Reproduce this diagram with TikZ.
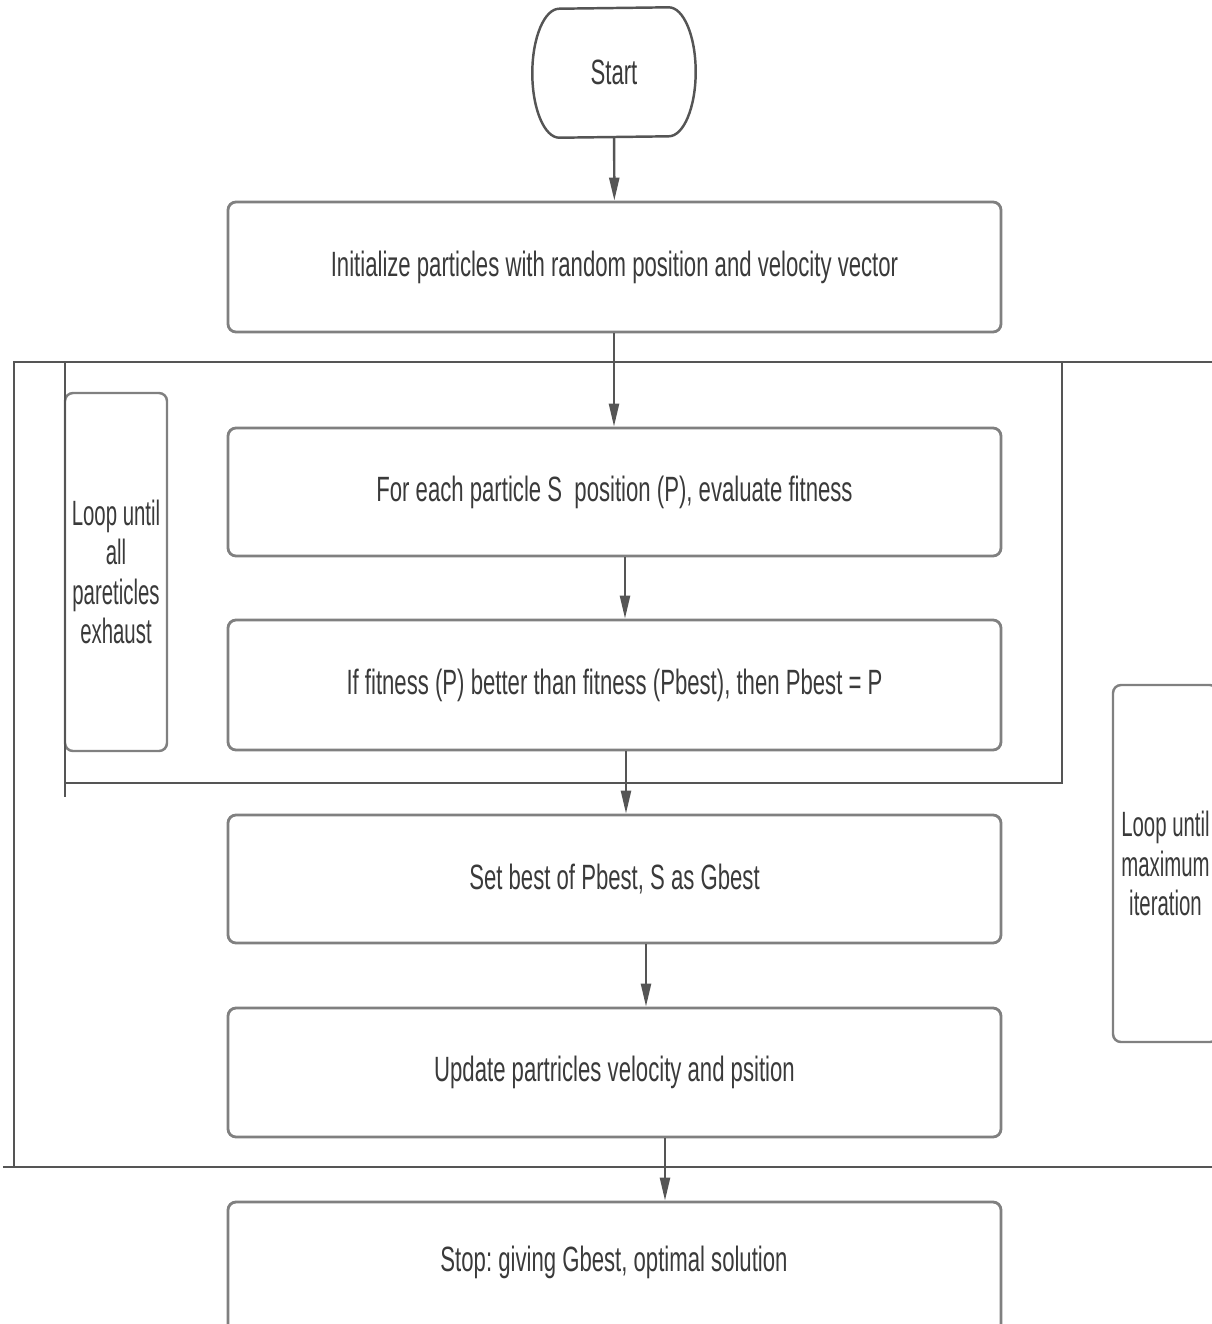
\documentclass[tikz,border=0pt]{standalone}
\usepackage{fontspec}
\setmainfont{Liberation Sans}[FakeStretch=0.63]
\newfontfamily\stretto{Liberation Sans}[FakeStretch=0.58]
\usepackage{tikz}
\usetikzlibrary{shapes,positioning,calc}
\usetikzlibrary{arrows.meta}
\frenchspacing
\definecolor{testo}{HTML}{3a3a3a}
\definecolor{bordo}{HTML}{808080}
\definecolor{linea}{HTML}{555555}
\tikzstyle{passo} = [rectangle, rounded corners=0.08cm, minimum width=7.73cm, minimum height=1.29cm, text centered, draw=bordo, line width=0.8pt, text=testo, font=\fontsize{10}{12}\selectfont]
\tikzstyle{terminale} = [rectangle, minimum width=1.62cm, minimum height=1.29cm, inner sep=0pt, text centered, text=testo, font=\fontsize{10}{12}\selectfont]
\tikzstyle{ciclo} = [rectangle, rounded corners=0.08cm, align=center, inner xsep=0pt, draw=bordo, line width=0.7pt, text=testo, font=\stretto\fontsize{10}{11.2}\selectfont]
\tikzstyle{cornice} = [draw=linea, line width=0.8pt]
\tikzstyle{arrow} = [draw=linea, line width=0.7pt, -{Triangle[length=2.3mm,width=1mm]}]

\begin{document}
\begin{tikzpicture}
						\useasboundingbox (0,0) rectangle (12.12,-13.24);
						\clip (0,0) rectangle (12.12,-13.24);
						\node (start) at (6.14,-0.725) [terminale] {Start};
						\draw [draw=linea, line width=0.7pt, line join=round] ([xshift=-0.27cm]start.north east) arc[start angle=90, end angle=-90, x radius=0.27cm, y radius=0.645cm] -- ([xshift=0.27cm]start.south west) arc[start angle=270, end angle=90, x radius=0.27cm, y radius=0.645cm] -- cycle;
						\node (init) at (6.145,-2.67) [passo, minimum height=1.30cm] {Initialize particles with random position and velocity vector};
						\node (fit) at (6.145,-4.92) [passo, minimum height=1.28cm] {For each particle S\ \ position (P), evaluate fitness};
						\node (ifb) at (6.145,-6.85) [passo, minimum height=1.30cm] {If fitness (P) better than fitness (Pbest), then Pbest = P};
						\node (setb) at (6.145,-8.79) [passo, minimum height=1.28cm] {Set best of Pbest, S as Gbest};
						\node (upd) at (6.145,-10.725) [passo] {Update partricles velocity and psition};
						\node (stop) at (6.145,-12.82) [passo, minimum height=1.60cm] {};
						\node at (6.14,-12.62) [text=testo, font=\fontsize{10}{12}\selectfont] {Stop: giving Gbest, optimal solution};
						\node (tutte) at (1.16,-5.72) [ciclo, minimum width=1.02cm, minimum height=3.58cm] {Loop until\\all\\pareticles\\exhaust};
						\node (maxit) at (11.655,-8.635) [ciclo, minimum width=1.05cm, minimum height=3.57cm] {Loop until\\maximum\\iteration};
						\draw [cornice] (0.14,-11.67) -- (0.14,-3.62) -- (12.2,-3.62);
						\draw [cornice] (0.03,-11.67) -- (12.2,-11.67);
						\draw [cornice] (0.65,-3.62) -- (0.65,-7.97);
						\draw [cornice] (0.65,-7.83) -- (10.62,-7.83) -- (10.62,-3.62);
						\draw [arrow] (start) -- (init);
						\draw [arrow] ([xshift=-0.005cm]init.south) -- ([xshift=-0.005cm]fit.north);
						\draw [arrow] ([xshift=0.105cm]fit.south) -- ([xshift=0.105cm]ifb.north);
						\draw [arrow] ([xshift=0.115cm]ifb.south) -- ([xshift=0.115cm]setb.north);
						\draw [arrow] ([xshift=0.315cm]setb.south) -- ([xshift=0.315cm]upd.north);
						\draw [arrow] ([xshift=0.505cm]upd.south) -- ([xshift=0.505cm]stop.north);
					\end{tikzpicture}
\end{document}
